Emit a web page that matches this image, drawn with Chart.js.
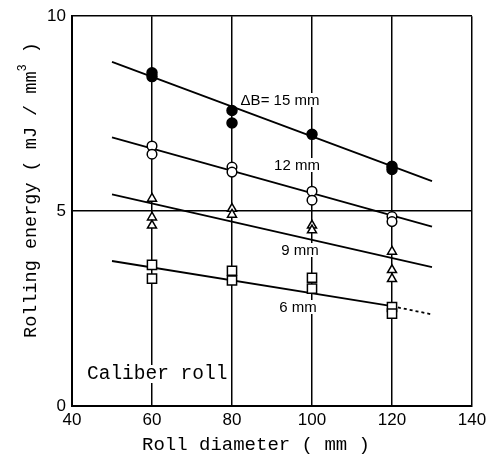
<!DOCTYPE html>
<html>
<head>
<meta charset="utf-8">
<script src="https://cdn.jsdelivr.net/npm/chart.js@4/dist/chart.umd.min.js"></script>
<style>
  html, body { margin: 0; padding: 0; background: #fff; }
  #wrap { width: 495px; height: 459px; }
</style>
</head>
<body>
<div id="wrap"><canvas id="c" width="495" height="459"></canvas></div>
<script>
// Measured points (roll diameter, mm) -> rolling energy (mJ/mm^3)
const b15X = [60, 60, 80, 80, 100, 120, 120];
const b15Y = [8.55, 8.45, 7.58, 7.26, 6.97, 6.15, 6.07];
const b12X = [60, 60, 80, 80, 100, 100, 120, 120];
const b12Y = [6.67, 6.46, 6.13, 6.00, 5.51, 5.28, 4.86, 4.73];
const b9X = [60, 60, 60, 80, 80, 100, 100, 120, 120, 120];
const b9Y = [5.32, 4.84, 4.63, 5.06, 4.91, 4.63, 4.51, 3.96, 3.49, 3.26];
const b6X = [60, 60, 80, 80, 100, 100, 120, 120];
const b6Y = [3.62, 3.27, 3.47, 3.22, 3.29, 3.01, 2.54, 2.37];

// Fitted lines
const fitX = [50, 130];
const fit15 = [8.83, 5.77];
const fit12 = [6.89, 4.60];
const fit9 = [5.43, 3.56];
const fit6X = [50, 120, 130];
const fit6 = [3.72, 2.56, 2.35];

// Axes
const xTicks = [40, 60, 80, 100, 120, 140];
const yTicks = [0, 5, 10];

// Labels
const seriesLabels = ['\u0394B= 15 mm', '12 mm', '9 mm', '6 mm'];
const noteLabel = 'Caliber roll';
const xTitle = 'Roll diameter ( mm )';
const yTitleParts = ['Rolling energy ( mJ / mm', '3', ' )'];

const pts = (xs, ys) => xs.map((x, i) => ({x: x, y: ys[i]}));

const markerBase = { showLine: false, borderColor: '#000', borderWidth: 1.5 };
const lineBase = { showLine: true, pointRadius: 0, borderColor: '#000', borderWidth: 1.8, fill: false, tension: 0 };

const textPlugin = {
  id: 'texts',
  beforeDatasetsDraw(chart) {
    const {ctx, scales: {x, y}} = chart;
    ctx.save();
    const sans = (s) => s + 'px "Liberation Sans", Arial, sans-serif';
    const lbls = [
      {t: seriesLabels[0], cx: 280, cy: 100},
      {t: seriesLabels[1], cx: 297, cy: 165},
      {t: seriesLabels[2], cx: 300, cy: 250},
      {t: seriesLabels[3], cx: 298, cy: 307}
    ];
    ctx.font = sans(15);
    ctx.textBaseline = 'middle';
    ctx.textAlign = 'center';
    lbls.forEach(l => {
      const w = ctx.measureText(l.t).width;
      ctx.fillStyle = '#fff';
      ctx.fillRect(l.cx - w / 2 - 2, l.cy - 7, w + 4, 14);
      ctx.fillStyle = '#000';
      ctx.fillText(l.t, l.cx, l.cy + 1);
    });
    ctx.font = '19.5px "Liberation Mono", "DejaVu Sans Mono", monospace';
    ctx.textAlign = 'left';
    const w2 = ctx.measureText(noteLabel).width;
    ctx.fillStyle = '#fff';
    ctx.fillRect(86, 365, w2 + 2, 18);
    ctx.fillStyle = '#000';
    ctx.fillText(noteLabel, 87, 374);
    ctx.restore();
  },
  afterDraw(chart) {
    const ctx = chart.ctx;
    ctx.save();
    ctx.fillStyle = '#000';
    ctx.textBaseline = 'middle';
    // x title
    ctx.font = '19px "Liberation Mono", "DejaVu Sans Mono", monospace';
    ctx.textAlign = 'center';
    ctx.fillText(xTitle, 256, 445);
    // y title
    const big = '18.5px "Liberation Mono", "DejaVu Sans Mono", monospace';
    const small = '12px "Liberation Mono", "DejaVu Sans Mono", monospace';
    ctx.font = big;
    const w1 = ctx.measureText(yTitleParts[0]).width;
    const w3 = ctx.measureText(yTitleParts[2]).width;
    ctx.font = small;
    const w2 = ctx.measureText(yTitleParts[1]).width;
    const total = w1 + w2 + w3;
    ctx.translate(31, 190);
    ctx.rotate(-Math.PI / 2);
    ctx.textAlign = 'left';
    let px = -total / 2;
    ctx.font = big;
    ctx.fillText(yTitleParts[0], px, 0);
    px += w1;
    ctx.font = small;
    ctx.fillText(yTitleParts[1], px, -8);
    px += w2;
    ctx.font = big;
    ctx.fillText(yTitleParts[2], px, 0);
    ctx.restore();
  }
};

new Chart(document.getElementById('c'), {
  type: 'scatter',
  data: {
    datasets: [
      Object.assign({}, markerBase, { data: pts(b15X, b15Y), pointStyle: 'circle', pointRadius: 5, backgroundColor: '#000' }),
      Object.assign({}, markerBase, { data: pts(b12X, b12Y), pointStyle: 'circle', pointRadius: 4.8, backgroundColor: '#fff' }),
      Object.assign({}, markerBase, { data: pts(b9X, b9Y), pointStyle: 'triangle', pointRadius: 5.2, backgroundColor: '#fff' }),
      Object.assign({}, markerBase, { data: pts(b6X, b6Y), pointStyle: 'rect', pointRadius: 6.5, backgroundColor: '#fff' }),
      Object.assign({}, lineBase, { data: pts(fitX, fit15) }),
      Object.assign({}, lineBase, { data: pts(fitX, fit12) }),
      Object.assign({}, lineBase, { data: pts(fitX, fit9) }),
      Object.assign({}, lineBase, { data: pts(fit6X, fit6),
        segment: { borderDash: (c) => c.p0DataIndex === 1 ? [3, 3] : undefined } })
    ]
  },
  options: {
    responsive: false,
    animation: false,
    events: [],
    layout: { padding: { left: 0, right: 23, top: 12, bottom: 0 } },
    plugins: { legend: { display: false }, tooltip: { enabled: false } },
    scales: {
      x: {
        type: 'linear', min: 40, max: 140,
        afterFit: (s) => { s.height = 53; },
        afterBuildTicks: (s) => { s.ticks = xTicks.map(v => ({value: v})); },
        ticks: { color: '#000', padding: 4, font: { family: '"Liberation Sans", Arial, sans-serif', size: 17 } },
        grid: { color: '#000', lineWidth: 1.5, drawTicks: false },
        border: { display: true, color: '#000', width: 2 }
      },
      y: {
        type: 'linear', min: 0, max: 10,
        afterFit: (s) => { s.width = 72; },
        afterBuildTicks: (s) => { s.ticks = yTicks.map(v => ({value: v})); },
        ticks: { color: '#000', padding: 6, font: { family: '"Liberation Sans", Arial, sans-serif', size: 17 } },
        grid: { color: '#000', lineWidth: 1.5, drawTicks: false },
        border: { display: true, color: '#000', width: 2 }
      }
    }
  },
  plugins: [textPlugin]
});
</script>
</body>
</html>
